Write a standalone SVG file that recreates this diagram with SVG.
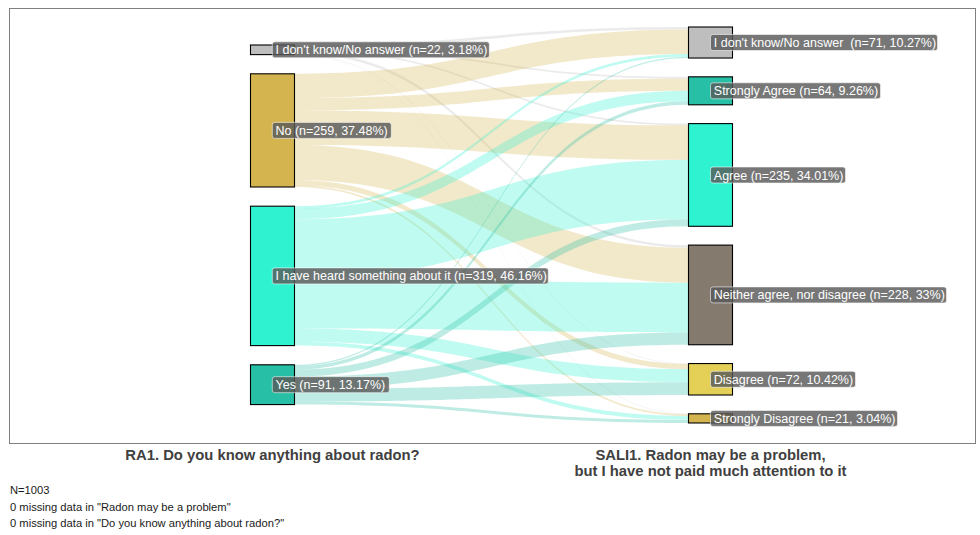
<svg xmlns="http://www.w3.org/2000/svg" width="980" height="535" viewBox="0 0 980 535">
<style>
.f0{fill:#bebebe;fill-opacity:0.3}
.f1{fill:#d4b44f;fill-opacity:0.3}
.f2{fill:#2ff2d0;fill-opacity:0.3}
.f3{fill:#27bfa5;fill-opacity:0.3}
.node rect.n{stroke:#000;stroke-width:1.1}
.lb{fill:#595959;fill-opacity:0.82;stroke:#fff;stroke-width:0.7;stroke-opacity:0.8}
.lt{font-family:"Liberation Sans",Arial,sans-serif;font-size:12.5px;fill:#fff;white-space:pre}
.ax{font-family:"Liberation Sans",Arial,sans-serif;font-size:14.8px;font-weight:bold;fill:#404040;text-anchor:middle}
.cap{font-family:"Liberation Sans",Arial,sans-serif;font-size:11.2px;fill:#1a1a1a}
</style>
<rect x="0" y="0" width="980" height="535" fill="#fff"/>
<rect x="9.5" y="8.5" width="966" height="435" fill="none" stroke="#808080" stroke-width="1"/>
<g id="connectors">
<path class="f0" d="M294.5,45 C491.5,45 491.5,27 688.5,27 L688.5,29.62 C491.5,29.62 491.5,47.62 294.5,47.62Z"/>
<path class="f0" d="M294.5,47.62 C491.5,47.62 491.5,76.83 688.5,76.83 L688.5,78.58 C491.5,78.58 491.5,49.37 294.5,49.37Z"/>
<path class="f0" d="M294.5,49.37 C491.5,49.37 491.5,123.6 688.5,123.6 L688.5,125.35 C491.5,125.35 491.5,51.12 294.5,51.12Z"/>
<path class="f0" d="M294.5,51.12 C491.5,51.12 491.5,245.1 688.5,245.1 L688.5,247.72 C491.5,247.72 491.5,53.74 294.5,53.74Z"/>
<path class="f0" d="M294.5,53.74 C491.5,53.74 491.5,363.54 688.5,363.54 L688.5,363.98 C491.5,363.98 491.5,54.18 294.5,54.18Z"/>
<path class="f0" d="M294.5,54.18 C491.5,54.18 491.5,413.8 688.5,413.8 L688.5,414.24 C491.5,414.24 491.5,54.61 294.5,54.61Z"/>
<path class="f1" d="M294.5,73.81 C491.5,73.81 491.5,29.62 688.5,29.62 L688.5,54.09 C491.5,54.09 491.5,98.28 294.5,98.28Z"/>
<path class="f1" d="M294.5,98.28 C491.5,98.28 491.5,78.58 688.5,78.58 L688.5,90.81 C491.5,90.81 491.5,110.52 294.5,110.52Z"/>
<path class="f1" d="M294.5,110.52 C491.5,110.52 491.5,125.35 688.5,125.35 L688.5,159.87 C491.5,159.87 491.5,145.04 294.5,145.04Z"/>
<path class="f1" d="M294.5,145.04 C491.5,145.04 491.5,247.72 688.5,247.72 L688.5,282.68 C491.5,282.68 491.5,180 294.5,180Z"/>
<path class="f1" d="M294.5,180 C491.5,180 491.5,363.98 688.5,363.98 L688.5,369.22 C491.5,369.22 491.5,185.25 294.5,185.25Z"/>
<path class="f1" d="M294.5,185.25 C491.5,185.25 491.5,414.24 688.5,414.24 L688.5,415.99 C491.5,415.99 491.5,186.99 294.5,186.99Z"/>
<path class="f2" d="M294.5,206.19 C491.5,206.19 491.5,54.09 688.5,54.09 L688.5,56.72 C491.5,56.72 491.5,208.81 294.5,208.81Z"/>
<path class="f2" d="M294.5,208.81 C491.5,208.81 491.5,90.81 688.5,90.81 L688.5,101.3 C491.5,101.3 491.5,219.3 294.5,219.3Z"/>
<path class="f2" d="M294.5,219.3 C491.5,219.3 491.5,159.87 688.5,159.87 L688.5,219.3 C491.5,219.3 491.5,278.73 294.5,278.73Z"/>
<path class="f2" d="M294.5,278.73 C491.5,278.73 491.5,282.68 688.5,282.68 L688.5,332.5 C491.5,332.5 491.5,328.55 294.5,328.55Z"/>
<path class="f2" d="M294.5,328.55 C491.5,328.55 491.5,369.22 688.5,369.22 L688.5,382.33 C491.5,382.33 491.5,341.66 294.5,341.66Z"/>
<path class="f2" d="M294.5,341.66 C491.5,341.66 491.5,415.99 688.5,415.99 L688.5,419.92 C491.5,419.92 491.5,345.59 294.5,345.59Z"/>
<path class="f3" d="M294.5,364.8 C491.5,364.8 491.5,56.72 688.5,56.72 L688.5,58.03 C491.5,58.03 491.5,366.11 294.5,366.11Z"/>
<path class="f3" d="M294.5,366.11 C491.5,366.11 491.5,101.3 688.5,101.3 L688.5,104.8 C491.5,104.8 491.5,369.61 294.5,369.61Z"/>
<path class="f3" d="M294.5,369.61 C491.5,369.61 491.5,219.3 688.5,219.3 L688.5,226.29 C491.5,226.29 491.5,376.6 294.5,376.6Z"/>
<path class="f3" d="M294.5,376.6 C491.5,376.6 491.5,332.5 688.5,332.5 L688.5,344.74 C491.5,344.74 491.5,388.83 294.5,388.83Z"/>
<path class="f3" d="M294.5,388.83 C491.5,388.83 491.5,382.33 688.5,382.33 L688.5,395 C491.5,395 491.5,401.51 294.5,401.51Z"/>
<path class="f3" d="M294.5,401.51 C491.5,401.51 491.5,419.92 688.5,419.92 L688.5,422.98 C491.5,422.98 491.5,404.57 294.5,404.57Z"/>
</g>
<g id="l_idk" class="node"><rect class="n" x="250.5" y="45" width="44" height="9.61" fill="#bebebe"/></g>
<g id="l_no" class="node"><rect class="n" x="250.5" y="73.81" width="44" height="113.18" fill="#d4b44f"/></g>
<g id="l_heard" class="node"><rect class="n" x="250.5" y="206.19" width="44" height="139.4" fill="#2ff2d0"/></g>
<g id="l_yes" class="node"><rect class="n" x="250.5" y="364.8" width="44" height="39.77" fill="#27bfa5"/></g>
<g id="r_idk" class="node"><rect class="n" x="688.5" y="27" width="44" height="31.03" fill="#bebebe"/></g>
<g id="r_sa" class="node"><rect class="n" x="688.5" y="76.83" width="44" height="27.97" fill="#27bfa5"/></g>
<g id="r_agree" class="node"><rect class="n" x="688.5" y="123.6" width="44" height="102.7" fill="#2ff2d0"/></g>
<g id="r_neither" class="node"><rect class="n" x="688.5" y="245.1" width="44" height="99.64" fill="#857a6e"/></g>
<g id="r_dis" class="node"><rect class="n" x="688.5" y="363.54" width="44" height="31.46" fill="#e4cf57"/></g>
<g id="r_sd" class="node"><rect class="n" x="688.5" y="413.8" width="44" height="9.18" fill="#d4b44f"/></g>
<g id="labels">
<rect class="lb" x="272.3" y="41.8" width="217" height="16" rx="2.5"/>
<text class="lt" x="275.5" y="54.3">I don't know/No answer (n=22, 3.18%)</text>
<rect class="lb" x="272.3" y="122.4" width="119" height="16" rx="2.5"/>
<text class="lt" x="275.5" y="134.9">No (n=259, 37.48%)</text>
<rect class="lb" x="272.3" y="267.9" width="276" height="16" rx="2.5"/>
<text class="lt" x="275.5" y="280.4">I have heard something about it (n=319, 46.16%)</text>
<rect class="lb" x="272.3" y="376.7" width="117" height="16" rx="2.5"/>
<text class="lt" x="275.5" y="389.2">Yes (n=91, 13.17%)</text>
<rect class="lb" x="710.5" y="34.5" width="227" height="16" rx="2.5"/>
<text class="lt" x="713.8" y="47">I don't know/No answer  (n=71, 10.27%)</text>
<rect class="lb" x="710.5" y="82.8" width="170" height="16" rx="2.5"/>
<text class="lt" x="713.8" y="95.3">Strongly Agree (n=64, 9.26%)</text>
<rect class="lb" x="710.5" y="167" width="135" height="16" rx="2.5"/>
<text class="lt" x="713.8" y="179.5">Agree (n=235, 34.01%)</text>
<rect class="lb" x="710.5" y="286.9" width="236" height="16" rx="2.5"/>
<text class="lt" x="713.8" y="299.4">Neither agree, nor disagree (n=228, 33%)</text>
<rect class="lb" x="710.5" y="371.3" width="145" height="16" rx="2.5"/>
<text class="lt" x="713.8" y="383.8">Disagree (n=72, 10.42%)</text>
<rect class="lb" x="710.5" y="410.4" width="187" height="16" rx="2.5"/>
<text class="lt" x="713.8" y="422.9">Strongly Disagree (n=21, 3.04%)</text>
</g>
<text class="ax" x="272.5" y="460">RA1. Do you know anything about radon?</text>
<text class="ax" x="710.5" y="460">SALI1. Radon may be a problem,</text>
<text class="ax" x="710.5" y="476">but I have not paid much attention to it</text>
<text class="cap" x="10" y="494">N=1003</text>
<text class="cap" x="10" y="511">0 missing data in "Radon may be a problem"</text>
<text class="cap" x="10" y="527">0 missing data in "Do you know anything about radon?"</text>
</svg>
